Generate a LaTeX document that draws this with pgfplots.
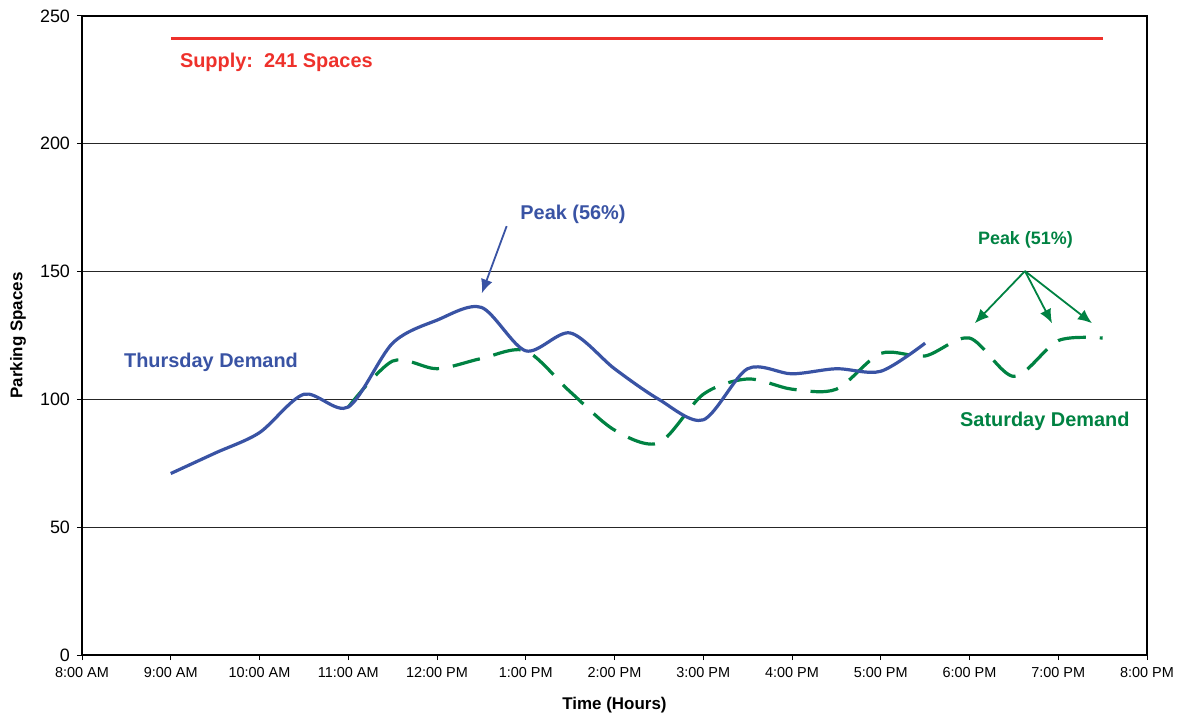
\documentclass[border=0pt]{standalone}
\usepackage{pgfplots}
\pgfplotsset{compat=1.18}
\usetikzlibrary{arrows.meta}
\usepackage{fontspec}
\setmainfont{Liberation Sans}
\definecolor{thublue}{RGB}{57,83,164}
\definecolor{satgreen}{RGB}{0,130,66}
\definecolor{supred}{RGB}{238,49,43}
\begin{document}
\begin{tikzpicture}
\useasboundingbox (-41bp,-31bp) rectangle (550bp,327.5bp);
\begin{axis}[
  at={(0,0)}, anchor=south west,
  scale only axis, width=532.5bp, height=319.5bp,
  xmin=8, xmax=20, ymin=0, ymax=250,
  xtick={8,9,...,20},
  xticklabels={8:00 AM,9:00 AM,10:00 AM,11:00 AM,12:00 PM,1:00 PM,2:00 PM,3:00 PM,4:00 PM,5:00 PM,6:00 PM,7:00 PM,8:00 PM},
  ytick={0,50,...,250},
  tick align=outside, xtick pos=left, ytick pos=left,
  major tick length=2.5bp,
  tick style={black, line width=0.5bp},
  ymajorgrids, grid style={black!85, line width=0.5bp},
  axis line style={black, line width=0.6bp},
  xticklabel style={font=\fontsize{7.25}{8}\selectfont},
  yticklabel style={font=\fontsize{9}{10}\selectfont},
  /pgf/number format/assume math mode=true,
  xlabel={\bfseries Time (Hours)},
  ylabel={\bfseries Parking Spaces},
  label style={font=\fontsize{8.5}{10}\selectfont},
  xlabel style={at={(axis description cs:0.5,0)}, anchor=center, yshift=-25bp},
  ylabel style={at={(axis description cs:0,0.5)}, anchor=center, xshift=0bp, yshift=32bp},
  clip=false,
]
% Supply
\addplot[supred, line width=1.5bp] coordinates {(9,241) (19.5,241)};
% Saturday demand
\addplot[satgreen, line width=1.6bp, smooth, dash pattern=on 14bp off 7bp] coordinates {
(11.0,97) (11.5,115) (12.0,112) (12.5,116) (13.0,119) (13.5,103) (14.0,88) (14.5,83)
(15.0,102) (15.5,108) (16.0,104) (16.5,104) (17.0,118) (17.5,117) (18.0,124) (18.5,109)
(19.0,123) (19.5,124)};
% Thursday demand
\addplot[thublue, line width=1.6bp, smooth] coordinates {
(9.0,71) (9.5,79) (10.0,87) (10.5,102) (11.0,97) (11.5,122) (12.0,131) (12.5,136)
(13.0,119) (13.5,126) (14.0,112) (14.5,100) (15.0,92) (15.5,112) (16.0,110) (16.5,112)
(17.0,111) (17.5,122)};
% annotations
\node[anchor=west, text=supred, font=\bfseries\fontsize{10}{12}\selectfont, inner sep=0pt] at (axis cs:9.1,232) {Supply:\ \ 241 Spaces};
\node[anchor=west, text=thublue, font=\bfseries\fontsize{10}{12}\selectfont, inner sep=0pt] at (axis cs:8.47,114.6) {Thursday Demand};
\node[anchor=west, text=thublue, font=\bfseries\fontsize{10}{12}\selectfont, inner sep=0pt] at (axis cs:12.935,172.5) {Peak (56\%)};
\draw[thublue, line width=0.9bp, -{Latex[length=7bp,width=6bp]}] (axis cs:12.785,167.8) -- (axis cs:12.505,141.5);
\node[anchor=center, text=satgreen, font=\bfseries\fontsize{9}{11}\selectfont, inner sep=0pt] at (axis cs:18.63,162.4) {Peak (51\%)};
\draw[satgreen, line width=0.9bp, -{Latex[length=7bp,width=6bp]}] (axis cs:18.625,150.2) -- (axis cs:18.06,129.8);
\draw[satgreen, line width=0.9bp, -{Latex[length=7bp,width=6bp]}] (axis cs:18.625,150.2) -- (axis cs:18.93,129.8);
\draw[satgreen, line width=0.9bp, -{Latex[length=7bp,width=6bp]}] (axis cs:18.625,150.2) -- (axis cs:19.38,129.8);
\node[anchor=west, text=satgreen, font=\bfseries\fontsize{10}{12}\selectfont, inner sep=0pt] at (axis cs:17.89,91.5) {Saturday Demand};
\end{axis}
\end{tikzpicture}
\end{document}
